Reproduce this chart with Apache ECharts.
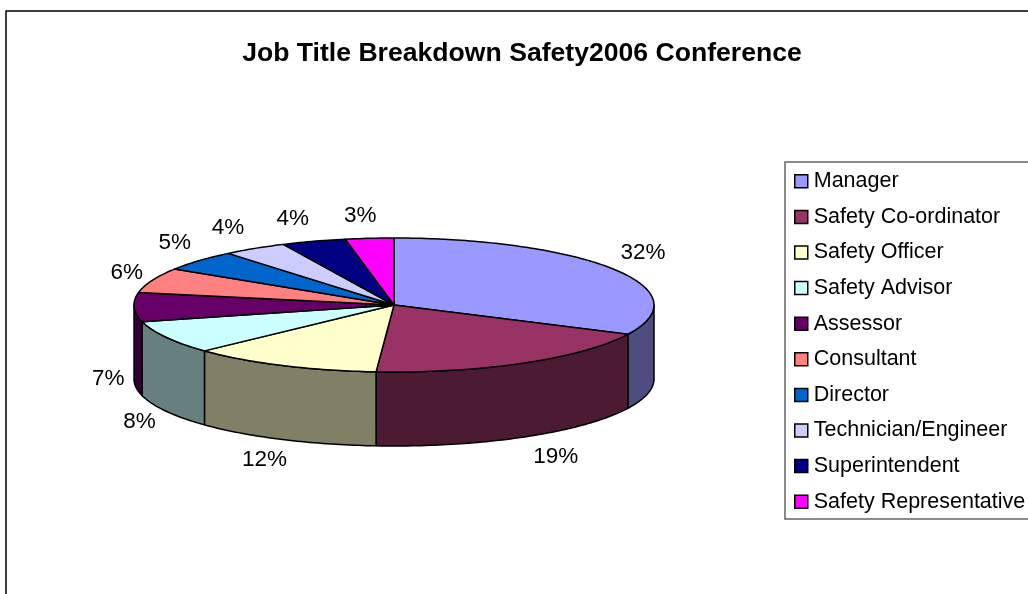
<!DOCTYPE html>
<html><head><meta charset="utf-8">
<style>html,body{margin:0;padding:0;background:#fff}#c{width:1028px;height:594px}</style>
<script src="https://cdn.jsdelivr.net/npm/echarts@6/dist/echarts.min.js"></script>
</head><body><div id="c"></div>
<script>
const categories = ['Manager','Safety Co-ordinator','Safety Officer','Safety Advisor','Assessor','Consultant','Director','Technician/Engineer','Superintendent','Safety Representative'];
const values = [32.2,18.9,11.9,8,7,6,5,4,4,3];
const topColors = ['#9999FF','#993366','#FFFFCC','#CCFFFF','#660066','#FF8080','#0066CC','#CCCCFF','#000080','#FF00FF'];
const sideColors = ['#4D4D80','#4D1A33','#808066','#668080','#330033','#804040','#003366','#666680','#000040','#800080'];
const labelNudge = [[-1,-3.5],[14,-1.5],[-3,-2.5],[4,-1.5],[9,-3.5],[7,1.5],[2,-1.5],[-8,0.5],[-10,1.5],[-6,2.5]];
const geo = {cx:394, cy:305, rx:260, ry:67, depth:74, labelRx:295, labelRy:92};
const FONT = 'Liberation Sans, Arial, sans-serif';
const total = values.reduce((a,b)=>a+b,0);
const rad = d => d*Math.PI/180;
const pt = (deg,dy) => [geo.cx+geo.rx*Math.sin(rad(deg)), geo.cy-geo.ry*Math.cos(rad(deg))+(dy||0)];
function arc(a0,a1,dy){const pts=[];const n=Math.max(2,Math.ceil(a1-a0));for(let i=0;i<=n;i++)pts.push(pt(a0+(a1-a0)*i/n,dy));return pts;}
const lineStyle = {stroke:'#000',lineWidth:1.5,lineJoin:'round'};
function makeRender(idx){
  return function(params,api){
    const before = values.slice(0,idx).reduce((a,b)=>a+b,0);
    const a0 = before/total*360, a1 = (before+values[idx])/total*360, mid=(a0+a1)/2;
    const children = [];
    const s0 = Math.max(a0,90), s1 = Math.min(a1,270);
    if(s1>s0){
      children.push({type:'polygon',z2:1,shape:{points:arc(s0,s1,0).concat(arc(s0,s1,geo.depth).reverse())},
        style:Object.assign({fill:sideColors[idx]},lineStyle)});
    }
    children.push({type:'polygon',z2:2,shape:{points:[[geo.cx,geo.cy]].concat(arc(a0,a1,0))},
      style:Object.assign({fill:topColors[idx]},lineStyle)});
    const c=Math.cos(rad(mid)), sn=Math.sin(rad(mid));
    children.push({type:'text',z2:3,
      x:geo.cx+geo.labelRx*sn+labelNudge[idx][0],
      y:geo.cy-geo.labelRy*c+(c<0?geo.depth:0)+labelNudge[idx][1],
      style:{text:Math.round(values[idx]/total*100)+'%',font:'22.5px '+FONT,fill:'#000',align:'center',verticalAlign:'middle'}});
    return {type:'group',children};
  };
}
const chart = echarts.init(document.getElementById('c'),null,{renderer:'canvas'});
chart.setOption({
  animation:false,
  backgroundColor:'#fff',
  title:{text:'Job Title Breakdown Safety2006 Conference',left:517,top:35,textAlign:'center',
    textStyle:{fontFamily:FONT,fontWeight:'bold',fontSize:26.6,color:'#000'}},
  graphic:[{type:'rect',z:-1,shape:{x:6,y:11,width:1100,height:700},style:{fill:'#fff',stroke:'#000',lineWidth:1.5}}],
  legend:{orient:'vertical',left:785,top:162,padding:[7,6,5,9],itemWidth:13,itemHeight:13,itemGap:11,icon:'rect',
    borderColor:'#666',borderWidth:1.5,backgroundColor:'#fff',selectedMode:false,
    itemStyle:{borderColor:'#000',borderWidth:1.5},
    textStyle:{fontFamily:FONT,fontSize:21.5,color:'#000',padding:[0,0,0,1],height:24.6,lineHeight:24.6},
    data:categories},
  series:categories.map((name,i)=>({
    type:'custom',name,coordinateSystem:'none',
    itemStyle:{color:topColors[i]},
    data:[values[i]],
    renderItem:makeRender(i)
  }))
});
</script></body></html>
